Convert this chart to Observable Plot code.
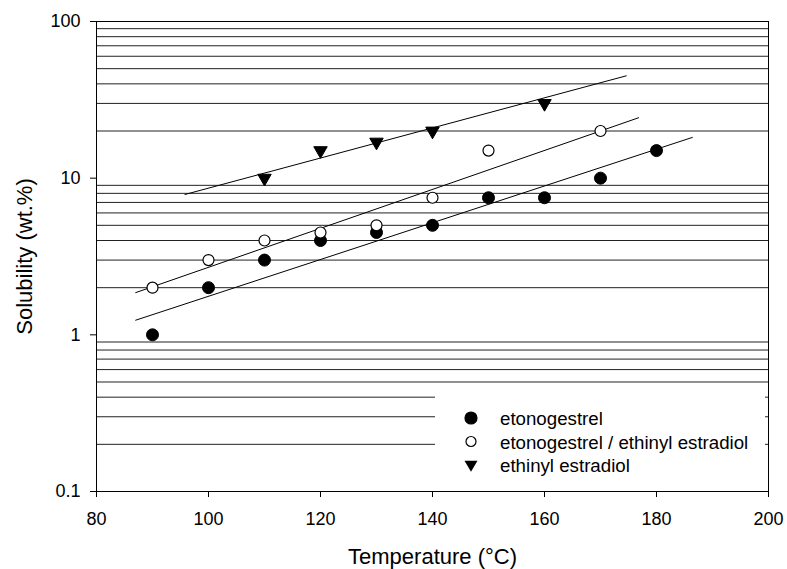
<!DOCTYPE html>
<html>
<head>
<meta charset="utf-8">
<script src="https://cdn.jsdelivr.net/npm/d3@7"></script>
<script src="https://cdn.jsdelivr.net/npm/@observablehq/plot@0.6"></script>
<style>
  body { margin: 0; background: #fff; font-family: "Liberation Sans", Arial, sans-serif; }
  #wrap { position: relative; width: 787px; height: 569px; }
  #legend { position: absolute; left: 435px; top: 386px; background: #fff; }
  #legend text { font-family: "Liberation Sans", Arial, sans-serif; font-size: 18.7px; fill: #000; }
</style>
</head>
<body>
<div id="wrap"></div>
<script>
// ---- data ----
const etonoTemps = [90, 100, 110, 120, 130, 140, 150, 160, 170, 180];
const etonoSol   = [1, 2, 3, 4, 4.5, 5, 7.5, 7.5, 10, 15];

const comboTemps = [90, 100, 110, 120, 130, 140, 150, 170];
const comboSol   = [2, 3, 4, 4.5, 5, 7.5, 15, 20];

const eeTemps = [110, 120, 130, 140, 160];
const eeSol   = [10, 15, 17, 20, 30];

// fitted regression lines (end points)
const fitEtonoT = [87, 186.4];
const fitEtonoS = [1.24, 18.2];
const fitComboT = [87, 176.8];
const fitComboS = [1.86, 24.3];
const fitEeT    = [95.8, 174.6];
const fitEeS    = [7.87, 45];

const gridValues = [0.2, 0.3, 0.4, 0.5, 0.6, 0.7, 0.8, 0.9,
                    2, 3, 4, 5, 6, 7, 8, 9,
                    20, 30, 40, 50, 60, 70, 80, 90];
const yTicks = [0.1, 1, 10, 100];
const yTickLabels = ["0.1", "1", "10", "100"];
const xTicks = [80, 100, 120, 140, 160, 180, 200];

const seriesNames = ["etonogestrel", "etonogestrel / ethinyl estradiol", "ethinyl estradiol"];
const xTitle = "Temperature (°C)";
const yTitle = "Solubility (wt.%)";

// ---- build tables ----
const toRows = (ts, vs) => ts.map((t, i) => ({t, v: vs[i]}));
const etono = toRows(etonoTemps, etonoSol);
const combo = toRows(comboTemps, comboSol);
const ee = toRows(eeTemps, eeSol);
const fitEtono = toRows(fitEtonoT, fitEtonoS);
const fitCombo = toRows(fitComboT, fitComboS);
const fitEe = toRows(fitEeT, fitEeS);

const font = "Liberation Sans, Arial, sans-serif";

const chart = Plot.plot({
  width: 787,
  height: 569,
  marginLeft: 96,
  marginRight: 19,
  marginTop: 21,
  marginBottom: 78,
  style: {fontFamily: font, fontSize: "18px", background: "#fff", color: "#000"},
  x: {domain: [80, 200]},
  y: {type: "log", domain: [0.1, 100]},
  marks: [
    Plot.ruleY(gridValues, {stroke: "#222", strokeWidth: 1}),
    Plot.frame({stroke: "#000"}),
    Plot.axisX({ticks: xTicks, tickSize: 6, tickPadding: 15, label: null, fontSize: 18, stroke: "#000"}),
    Plot.axisY({ticks: yTicks, tickFormat: d => yTickLabels[yTicks.indexOf(d)], tickSize: 6, tickPadding: 10, label: null, fontSize: 18, stroke: "#000"}),
    Plot.text([xTitle], {frameAnchor: "bottom", dy: 65, fontSize: 22, lineAnchor: "middle", textAnchor: "middle", fill: "#000"}),
    Plot.text([yTitle], {frameAnchor: "left", dx: -72, rotate: -90, fontSize: 22, lineAnchor: "middle", textAnchor: "middle", fill: "#000"}),
    Plot.line(fitEtono, {x: "t", y: "v", stroke: "#000", strokeWidth: 1}),
    Plot.line(fitCombo, {x: "t", y: "v", stroke: "#000", strokeWidth: 1}),
    Plot.line(fitEe, {x: "t", y: "v", stroke: "#000", strokeWidth: 1}),
    Plot.dot(etono, {x: "t", y: "v", r: 6, fill: "#000", stroke: "#000", strokeWidth: 1}),
    Plot.dot(combo, {x: "t", y: "v", r: 5.5, fill: "#fff", stroke: "#000", strokeWidth: 1.2}),
    Plot.dot(ee, {x: "t", y: "v", r: 5, symbol: "triangle", rotate: 180, fill: "#000", stroke: "#000", strokeWidth: 1})
  ]
});

const wrap = document.getElementById("wrap");
wrap.appendChild(chart);

// ---- legend (overlay box) ----
const ns = "http://www.w3.org/2000/svg";
const lg = document.createElementNS(ns, "svg");
lg.setAttribute("id", "legend");
lg.setAttribute("width", 330);
lg.setAttribute("height", 94);
const bg = document.createElementNS(ns, "rect");
bg.setAttribute("width", 330); bg.setAttribute("height", 94); bg.setAttribute("fill", "#fff");
lg.appendChild(bg);
const symX = 36, textX = 65, rowY = [32, 55.5, 78.5];
const symbols = ["filled", "open", "tri"];
seriesNames.forEach((name, i) => {
  const cy = rowY[i];
  let s;
  if (symbols[i] === "tri") {
    s = document.createElementNS(ns, "path");
    const w = 6.5, h = 11;
    s.setAttribute("d", `M${symX - w},${cy - h / 3}L${symX + w},${cy - h / 3}L${symX},${cy + 2 * h / 3}Z`);
    s.setAttribute("fill", "#000");
  } else {
    s = document.createElementNS(ns, "circle");
    s.setAttribute("cx", symX); s.setAttribute("cy", cy);
    s.setAttribute("r", symbols[i] === "filled" ? 6 : 5);
    s.setAttribute("fill", symbols[i] === "filled" ? "#000" : "#fff");
    s.setAttribute("stroke", "#000");
    s.setAttribute("stroke-width", 1.2);
  }
  lg.appendChild(s);
  const t = document.createElementNS(ns, "text");
  t.setAttribute("x", textX); t.setAttribute("y", cy + 7);
  t.textContent = name;
  lg.appendChild(t);
});
wrap.appendChild(lg);
</script>
</body>
</html>
